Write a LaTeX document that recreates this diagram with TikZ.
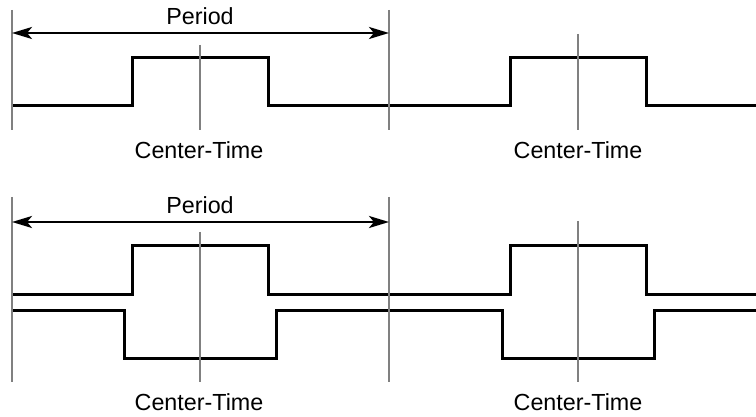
\documentclass[tikz,border=0pt]{standalone}
\usepackage{fontspec}
\setmainfont{Liberation Sans}
\usetikzlibrary{arrows.meta}
\begin{document}
\begin{tikzpicture}[x=1pt,y=-1pt,
  sig/.style={line width=3pt, line join=miter, black},
  guide/.style={line width=2pt, draw={rgb,255:red,128;green,128;blue,128}},
  dim/.style={line width=2.6pt, {Stealth[length=20pt,width=12pt,inset=5pt]}-{Stealth[length=20pt,width=12pt,inset=5pt]}},
  lbl/.style={font=\fontsize{23.3}{27}\selectfont, inner sep=0pt, anchor=base}]
\useasboundingbox (0,0) rectangle (756,417);
% ---------- top panel ----------
\coordinate (a1t) at (12,10);  \coordinate (a1b) at (12,130);
\coordinate (b1t) at (389,10); \coordinate (b1b) at (389,130);
\coordinate (c1t) at (200,45); \coordinate (c1b) at (200,130);
\coordinate (d1t) at (578,34); \coordinate (d1b) at (578,130);
\draw[sig] (12,106) -- (132,106) -- (132,58) -- (268,58) -- (268,106) -- (510,106) -- (510,58) -- (646,58) -- (646,106) -- (756,106);
\draw[guide] (a1t) -- (a1b);
\draw[guide] (b1t) -- (b1b);
\draw[guide] (c1t) -- (c1b);
\draw[guide] (d1t) -- (d1b);
\coordinate (p1l) at (12,33); \coordinate (p1r) at (389,33);
\draw[dim] (p1l) -- (p1r);
\node[lbl] (per1) at (200,25) {Period};
\node[lbl] (ct1) at (199,159) {Center-Time};
\node[lbl] (ct2) at (578,159) {Center-Time};
% ---------- bottom panel ----------
\coordinate (a2t) at (12,197);  \coordinate (a2b) at (12,382);
\coordinate (b2t) at (389,197); \coordinate (b2b) at (389,382);
\coordinate (c2t) at (200,232); \coordinate (c2b) at (200,382);
\coordinate (d2t) at (578,221); \coordinate (d2b) at (578,382);
\draw[sig] (12,294) -- (132,294) -- (132,246) -- (268,246) -- (268,294) -- (510,294) -- (510,246) -- (646,246) -- (646,294) -- (756,294);
\draw[sig] (12,310) -- (124,310) -- (124,358) -- (276,358) -- (276,310) -- (502,310) -- (502,358) -- (654,358) -- (654,310) -- (756,310);
\draw[guide] (a2t) -- (a2b);
\draw[guide] (b2t) -- (b2b);
\draw[guide] (c2t) -- (c2b);
\draw[guide] (d2t) -- (d2b);
\coordinate (p2l) at (12,222); \coordinate (p2r) at (389,222);
\draw[dim] (p2l) -- (p2r);
\node[lbl] (per2) at (200,214) {Period};
\node[lbl] (ct3) at (199,410) {Center-Time};
\node[lbl] (ct4) at (578,410) {Center-Time};
\end{tikzpicture}
\end{document}
